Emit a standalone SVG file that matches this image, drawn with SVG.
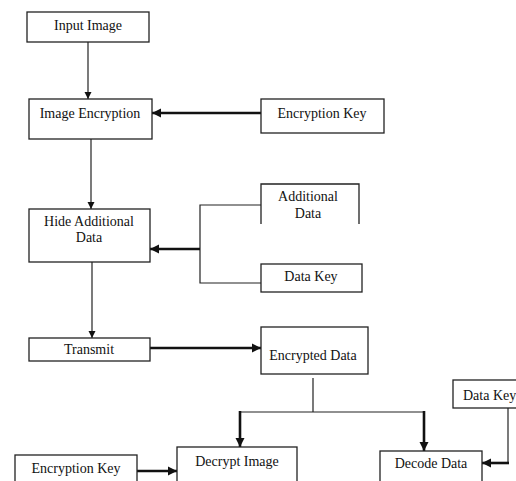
<svg xmlns="http://www.w3.org/2000/svg" width="516" height="481" viewBox="0 0 516 481">
<defs>
<style>
.box{fill:#fff;stroke:#222;stroke-width:1.3}
.t{font-family:"Liberation Serif",serif;font-size:14px;fill:#111;text-anchor:middle}
.ln{fill:none;stroke:#222;stroke-width:1.2}
.th{fill:none;stroke:#111;stroke-width:2.6}
</style>
<marker id="a" markerWidth="8" markerHeight="8" refX="7" refY="4" orient="auto" markerUnits="userSpaceOnUse">
<path d="M0,0.5 L7,4 L0,7.5 Z" fill="#111"/>
</marker>
<marker id="b" markerWidth="10" markerHeight="10" refX="9" refY="5" orient="auto" markerUnits="userSpaceOnUse">
<path d="M0,0.5 L9,5 L0,9.5 Z" fill="#111"/>
</marker>
</defs>
<rect width="516" height="481" fill="#fff"/>
<g id="connectors">
<path class="ln" d="M88,42 V99" marker-end="url(#a)"/>
<path class="th" d="M261,113 H152" marker-end="url(#b)"/>
<path class="ln" d="M91,139 V209" marker-end="url(#a)"/>
<path class="ln" d="M261,205 H200 V283 H261"/>
<path class="th" d="M200,249 H150" marker-end="url(#b)"/>
<path class="ln" d="M92,262 V338" marker-end="url(#a)"/>
<path class="th" d="M147,348 H261" marker-end="url(#b)"/>
<path class="ln" d="M313,378 V412 M240,412 H424"/>
<path class="th" d="M240,411 V447" marker-end="url(#b)"/>
<path class="th" d="M424,411 V451" marker-end="url(#b)"/>
<path class="th" d="M137,471 H177" marker-end="url(#b)"/>
<path class="ln" d="M508,408 V463"/>
<path class="th" d="M509,463 H482" marker-end="url(#b)"/>
</g>
<g id="input-image"><rect class="box" x="27" y="12" width="122" height="30"/><text class="t" x="88" y="30">Input Image</text></g>
<g id="image-encryption"><rect class="box" x="29" y="99" width="123" height="40"/><text class="t" x="90" y="118">Image Encryption</text></g>
<g id="encryption-key"><rect class="box" x="261" y="99" width="123" height="34"/><text class="t" x="322" y="118">Encryption Key</text></g>
<g id="hide-additional-data"><rect class="box" x="29" y="209" width="121" height="53"/><text class="t" x="89" y="226">Hide Additional</text><text class="t" x="89" y="242">Data</text></g>
<g id="additional-data"><path class="box" d="M261,224 V184 H359 V224"/><text class="t" x="308" y="201">Additional</text><text class="t" x="308" y="218">Data</text></g>
<g id="data-key"><rect class="box" x="261" y="264" width="101" height="28"/><text class="t" x="311" y="281">Data Key</text></g>
<g id="transmit"><rect class="box" x="29" y="338" width="121" height="23"/><text class="t" x="89" y="354">Transmit</text></g>
<g id="encrypted-data"><rect class="box" x="261" y="327" width="107" height="47"/><text class="t" x="313" y="360">Encrypted Data</text></g>
<g id="decrypt-image"><rect class="box" x="177" y="447" width="120" height="40"/><text class="t" x="237" y="466">Decrypt Image</text></g>
<g id="decode-data"><rect class="box" x="380" y="451" width="102" height="36"/><text class="t" x="431" y="468">Decode Data</text></g>
<g id="encryption-key-2"><rect class="box" x="15" y="455" width="122" height="32"/><text class="t" x="76" y="473">Encryption Key</text></g>
<g id="data-key-2"><rect class="box" x="453" y="380" width="70" height="28"/><text class="t" x="463" y="400" style="text-anchor:start">Data Key</text></g>
</svg>
